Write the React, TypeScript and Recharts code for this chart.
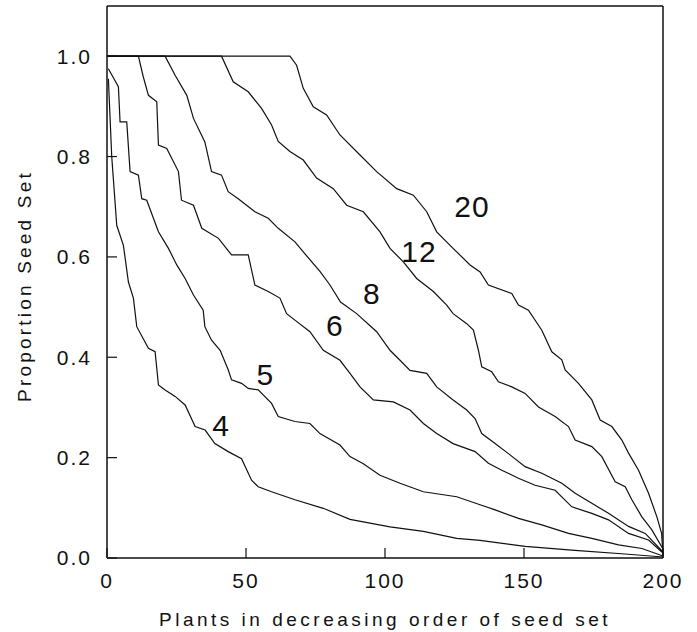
import { LineChart, Line, XAxis, YAxis, ReferenceLine, ReferenceDot } from 'recharts'

// [plant rank, proportion of seed set]
const curve4 = [
  [0.5, 0.955], [1.7, 0.8], [3.5, 0.663], [5.9, 0.623], [7.7, 0.55], [9.5, 0.518], [10.7, 0.461],
  [14.9, 0.418], [17.3, 0.411], [18.5, 0.345], [20.9, 0.335], [24.5, 0.322], [28.1, 0.305],
  [31.7, 0.262], [35.3, 0.255], [38.8, 0.228], [43.6, 0.212], [48.4, 0.198], [52, 0.155],
  [54.4, 0.142], [59.2, 0.132], [67.6, 0.116], [77.8, 0.099], [87.4, 0.077], [101.8, 0.062],
  [113.8, 0.053], [125.8, 0.039], [134.2, 0.035], [150.4, 0.023], [168.3, 0.015], [186.3, 0.008],
  [200, 0.002],
]

const curve5 = [
  [0.5, 0.975], [2.5, 0.955], [4.1, 0.939], [4.7, 0.869], [7.1, 0.869], [8.3, 0.77], [11.3, 0.763],
  [12.5, 0.716], [14.3, 0.713], [18.5, 0.65], [22.1, 0.617], [25.1, 0.584], [28.1, 0.557],
  [31.1, 0.524], [34.6, 0.494], [35.2, 0.461], [37.6, 0.434], [40.7, 0.414], [43.6, 0.375],
  [44.8, 0.355], [48.4, 0.348], [50.8, 0.338], [54.4, 0.335], [59.2, 0.308], [61.6, 0.282],
  [67.6, 0.272], [73, 0.268], [76.6, 0.248], [83.8, 0.225], [87.4, 0.202], [92.2, 0.188],
  [98.2, 0.165], [105.4, 0.149], [113.8, 0.132], [125.8, 0.122], [134.2, 0.106], [139.6, 0.096],
  [148, 0.079], [156.4, 0.066], [166, 0.049], [174.4, 0.039], [184, 0.026], [192.4, 0.019],
  [200, 0.004],
]

const curve6 = [
  [0, 1], [11.3, 1], [13, 0.96], [14.9, 0.922], [17.9, 0.909], [18.5, 0.823], [21.5, 0.816],
  [25.7, 0.77], [26.8, 0.713], [31.1, 0.703], [34.1, 0.657], [40.1, 0.637], [44.8, 0.604],
  [50.8, 0.604], [53.2, 0.544], [58, 0.531], [62.2, 0.518], [64.6, 0.487], [67.6, 0.474],
  [73, 0.451], [77.8, 0.414], [83.8, 0.394], [87.4, 0.368], [91, 0.341], [95.8, 0.315],
  [103, 0.311], [109, 0.295], [113.8, 0.268], [118.6, 0.248], [124.5, 0.228], [132.4, 0.212],
  [137.2, 0.189], [142, 0.175], [148, 0.159], [154, 0.145], [161.2, 0.135], [167.2, 0.102],
  [174.4, 0.089], [180.4, 0.076], [187.6, 0.049], [194.8, 0.036], [200, 0.01],
]

const curve8 = [
  [0, 1], [20.9, 1], [24.5, 0.962], [28.7, 0.922], [31.1, 0.876], [35.2, 0.829], [37.6, 0.77],
  [41.2, 0.763], [43.6, 0.73], [47.2, 0.716], [53.2, 0.69], [58, 0.677], [61.6, 0.657],
  [67.6, 0.63], [70.6, 0.61], [76.6, 0.571], [80.2, 0.544], [84, 0.51], [89.8, 0.487],
  [97, 0.451], [101.8, 0.414], [105.4, 0.394], [109, 0.374], [115, 0.368], [118.6, 0.341],
  [124.5, 0.315], [129.4, 0.295], [132.4, 0.278], [134.8, 0.248], [139.6, 0.228], [144.4, 0.208],
  [150.4, 0.182], [156.4, 0.169], [163.6, 0.149], [168.4, 0.129], [174.4, 0.109], [180.4, 0.089],
  [187.6, 0.063], [193.6, 0.049], [200, 0.012],
]

const curve12 = [
  [0, 1], [41.2, 1], [45.4, 0.949], [50.8, 0.929], [55.6, 0.896], [59.2, 0.863], [61.6, 0.83],
  [65.8, 0.81], [70.6, 0.793], [75.4, 0.757], [81.4, 0.736], [86.2, 0.703], [92.2, 0.69],
  [98.2, 0.65], [101.8, 0.617], [106.6, 0.59], [111.4, 0.557], [117.4, 0.531], [122.2, 0.504],
  [124.5, 0.487], [129.4, 0.467], [131.8, 0.454], [133.6, 0.414], [134.8, 0.381], [138.4, 0.371],
  [140.8, 0.351], [145.6, 0.341], [150.4, 0.328], [155.2, 0.301], [161.2, 0.282], [166, 0.262],
  [168.4, 0.235], [174.4, 0.222], [178, 0.202], [182.8, 0.152], [186.4, 0.142], [188.8, 0.116],
  [192.4, 0.082], [196, 0.056], [200, 0.018],
]

const curve20 = [
  [0, 1], [65.8, 1], [68.2, 0.982], [70.6, 0.936], [74.2, 0.899], [79, 0.883], [83.8, 0.843],
  [91, 0.803], [97, 0.77], [104.2, 0.736], [110.2, 0.723], [115, 0.69], [118.6, 0.65],
  [123.4, 0.623], [130.6, 0.584], [134.2, 0.57], [137.2, 0.544], [145.6, 0.527], [148, 0.504],
  [151.6, 0.494], [156.4, 0.454], [160, 0.411], [163.6, 0.395], [164.8, 0.375], [169.6, 0.348],
  [174.4, 0.315], [177.4, 0.275], [181.6, 0.262], [185.2, 0.235], [187.6, 0.209], [191.2, 0.175],
  [194.8, 0.129], [197.8, 0.082], [199.5, 0.049], [200, 0.006],
]

const curveNames = ['4', '5', '6', '8', '12', '20']
const curves = [curve4, curve5, curve6, curve8, curve12, curve20]

// where each curve's name is written, in data units
const labelX = [41, 57, 82, 95.3, 112.2, 131.3]
const labelY = [0.265, 0.365, 0.463, 0.527, 0.612, 0.701]

const xTicks = [0, 50, 100, 150, 200]
const yTicks = [0, 0.2, 0.4, 0.6, 0.8, 1.0]

const font = '"Liberation Sans", Arial, sans-serif'

const toPoints = (pts: number[][]) => pts.map(([x, y]) => ({ x, y }))

function YTitle(props: any) {
  const vb = props.viewBox
  const cx = vb.x + 24
  const cy = vb.y + vb.height / 2 + 4
  return (
    <text
      x={cx}
      y={cy}
      transform={`rotate(-90, ${cx}, ${cy})`}
      textAnchor="middle"
      dominantBaseline="central"
      fontFamily={font}
      fontSize={19}
      letterSpacing={3.2}
      fill="#111"
    >
      Proportion Seed Set
    </text>
  )
}

export default function App() {
  return (
    <div style={{ position: 'absolute', left: 0, top: 0, background: '#fff' }}>
      <LineChart width={697} height={632} margin={{ top: 6, right: 34, bottom: 0, left: 0 }}>
        <XAxis
          type="number"
          dataKey="x"
          domain={[0, 200]}
          ticks={xTicks}
          height={74}
          tickSize={-10}
          tickMargin={25}
          axisLine={{ stroke: '#111', strokeWidth: 1.5 }}
          tickLine={{ stroke: '#111', strokeWidth: 1.2 }}
          tick={{ fill: '#111', fontSize: 21, fontFamily: font, letterSpacing: 2 }}
          label={{
            value: 'Plants in decreasing order of seed set',
            position: 'insideBottom',
            offset: 6,
            fill: '#111',
            fontSize: 19,
            fontFamily: font,
            letterSpacing: 3.5,
          }}
        />
        <YAxis
          type="number"
          dataKey="y"
          domain={[0, 1.1]}
          ticks={yTicks}
          width={107}
          tickSize={-10}
          tickMargin={25}
          tickFormatter={(v: number) => v.toFixed(1)}
          axisLine={{ stroke: '#111', strokeWidth: 1.5 }}
          tickLine={{ stroke: '#111', strokeWidth: 1.2 }}
          tick={{ fill: '#111', fontSize: 21, fontFamily: font, letterSpacing: 2 }}
          label={{ content: YTitle }}
        />
        <ReferenceLine y={1.1} stroke="#111" strokeWidth={1.5} />
        <ReferenceLine x={200} stroke="#111" strokeWidth={1.5} />
        {curves.map((c, i) => (
          <Line
            key={curveNames[i]}
            data={toPoints(c)}
            dataKey="y"
            type="linear"
            stroke="#111"
            strokeWidth={1.2}
            dot={false}
            activeDot={false}
            isAnimationActive={false}
          />
        ))}
        {curveNames.map((name, i) => (
          <ReferenceDot
            key={'lbl' + name}
            x={labelX[i]}
            y={labelY[i]}
            r={1}
            fill="none"
            stroke="none"
            label={{
              value: name,
              position: 'center',
              fill: '#111',
              fontSize: 30,
              fontFamily: font,
              letterSpacing: 1,
            }}
          />
        ))}
      </LineChart>
    </div>
  )
}
